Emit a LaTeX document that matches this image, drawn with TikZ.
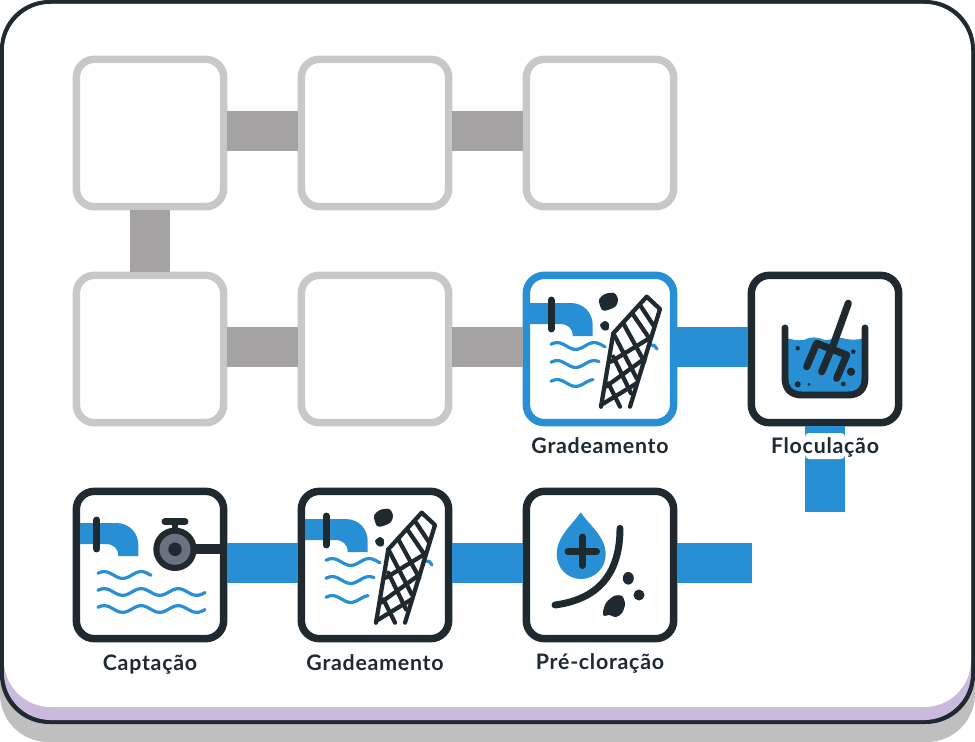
\documentclass[tikz,border=0pt]{standalone}
\usepackage{fontspec}
\setmainfont{Lato}[LetterSpace=3.5]
\usetikzlibrary{calc}
\definecolor{waterblue}{RGB}{41,143,212}
\definecolor{inkdark}{RGB}{31,41,48}
\definecolor{idlegrey}{RGB}{200,200,200}
\definecolor{pipegrey}{RGB}{164,162,163}
\definecolor{valvegrey}{RGB}{107,114,128}
\definecolor{lilac}{RGB}{200,187,219}
\definecolor{shadowgrey}{RGB}{191,191,191}
\tikzset{
  stagebox/.style={draw=#1,fill=white,line width=5.6pt,rounded corners=13.5pt,minimum width=110.5pt,minimum height=110.5pt,inner sep=0pt},
  link/.style={line width=30pt,draw=#1},
  waterline/.style={draw=waterblue,line width=2.4pt,line cap=round},
  inkline/.style={draw=inkdark,line width=#1,line cap=round,line join=round},
  stagetext/.style={font=\fontsize{16}{18}\bfseries\selectfont,text=inkdark,inner sep=0pt,anchor=base}
}
% wave: from x to x at height y
\newcommand{\wavyline}[3]{\draw[waterline] plot[domain=#1:#2,samples=36,smooth] (\x,{#3-3.4*sin(9.73*(\x-#1)+30)});}
% pipe: left end x, outer right x, top y
\newcommand{\pipeicon}[3]{
\fill[waterblue] (#1,#3) -- (#2-22,#3) .. controls (#2-9,#3) and (#2,#3+10) .. (#2,#3+22) -- (#2,#3+33) -- (#2-20,#3+33) .. controls (#2-20,#3+25) and (#2-25,#3+21) .. (#2-33,#3+21) -- (#1,#3+21) -- cycle;
\draw[inkline=5.2pt] (#2-41.5,#3-3) -- (#2-41.5,#3+26);
}
% grid icon, drawn for the box at 523,272
\newcommand{\screenicon}{
\wavyline{551}{605}{346}
\wavyline{551}{599}{364}
\wavyline{551}{593}{383}
\draw[waterline] (650,345) .. controls (654,345) and (656,346) .. (657,349);
\fill[inkdark] plot[smooth cycle] coordinates {(599,300) (605,294) (614,293) (618,299) (616,306) (608,310) (602,310)};
\fill[inkdark] plot[smooth cycle] coordinates {(600,325) (605,321) (609,324) (608,330) (603,330)};
\draw[inkline=3.2pt] (601,406.7) -- (613.3,333.3) -- (646.7,296.7) -- (660,309) -- (630,406.7);
\draw[inkline=3.2pt] (608.3,383.3) -- (620,406.7) (613.3,356.7) -- (631,393.3) (613.3,333.3) -- (636.7,378.3) (623.3,323.3) -- (644.3,361.7) (632.7,314) -- (649.3,338.3) (640,305) -- (654.3,326.7);
\draw[inkline=3.2pt] (611,361.7) -- (649.3,338.3) (605.7,386.7) -- (645,358.3) (601,405) -- (636.7,383.3);
}
\begin{document}
\begin{tikzpicture}[x=0.75pt,y=0.75pt,yscale=-1,xscale=1]
\useasboundingbox (0,0) rectangle (975,742);

%Shape: Card
\fill[shadowgrey,rounded corners=36pt] (0,600) rectangle (975,742);
\fill[inkdark,rounded corners=37pt] (0,0) rectangle (975,724);
\fill[lilac,rounded corners=35pt] (4,4) rectangle (971,720);
\fill[white,rounded corners=35pt] (4,4) rectangle (971,707);

%Shape: Stage boxes
\node[stagebox=idlegrey] (idleA) at (150,133) {};
\node[stagebox=idlegrey] (idleB) at (375,133) {};
\node[stagebox=idlegrey] (idleC) at (600,133) {};
\node[stagebox=idlegrey] (idleD) at (150,349) {};
\node[stagebox=idlegrey] (idleE) at (375,349) {};
\node[stagebox=waterblue] (screenA) at (600,349) {};
\node[stagebox=inkdark] (floc) at (825,349) {};
\node[stagebox=inkdark] (intake) at (150,565) {};
\node[stagebox=inkdark] (screenB) at (375,565) {};
\node[stagebox=inkdark] (chlor) at (600,565) {};
\coordinate (endFloc) at (825,512);
\coordinate (endChlor) at (752,565);

%Straight Lines
\draw[link=pipegrey] ([yshift=-1.5pt]idleA.east) -- ([yshift=-1.5pt]idleB.west);
\draw[link=pipegrey] ([yshift=-1.5pt]idleB.east) -- ([yshift=-1.5pt]idleC.west);
\draw[link=pipegrey] (idleA.south) -- (idleD.north);
\draw[link=pipegrey] ([yshift=-1.5pt]idleD.east) -- ([yshift=-1.5pt]idleE.west);
\draw[link=pipegrey] ([yshift=-1.5pt]idleE.east) -- ([yshift=-1.5pt]screenA.west);
\draw[link=waterblue] ([yshift=-1.5pt]screenA.east) -- ([yshift=-1.5pt]floc.west);
\draw[link=waterblue] (floc.south) -- (endFloc);
\draw[link=waterblue] ([yshift=-1.5pt]intake.east) -- ([yshift=-1.5pt]screenB.west);
\draw[link=waterblue] ([yshift=-1.5pt]screenB.east) -- ([yshift=-1.5pt]chlor.west);
\draw[link=waterblue] ([yshift=-1.5pt]chlor.east) -- ([yshift=-1.5pt]endChlor);

%Shape: Screen icons
\pipeicon{530}{592.7}{303}
\screenicon
\begin{scope}[shift={(-225,216)}]
\pipeicon{530}{592.7}{303}
\screenicon
\end{scope}

%Shape: Intake icon
\pipeicon{80}{138.3}{523}
\wavyline{98}{151}{575}
\wavyline{98}{205}{592}
\wavyline{98}{205}{609}
\draw[inkdark,line width=7.5pt] (190,549.3) -- (224,549.3);
\draw[inkline=4.9pt] (175,522) -- (175,532);
\draw[inkline=5.2pt] (165,521.7) -- (185,521.7);
\fill[inkdark] (175,549.3) circle (21.7);
\fill[valvegrey] (175,549.3) circle (15.5);
\fill[inkdark] (175,549.3) circle (6.7);

%Shape: Chlorination icon
\fill[waterblue] (580.7,512.3) .. controls (588,524) and (605.7,536) .. (605.7,554.5) .. controls (605.7,568) and (594.5,579) .. (581,579) .. controls (567.5,579) and (556.7,568) .. (556.7,554.5) .. controls (556.7,536) and (573,524) .. (580.7,512.3) -- cycle;
\draw[inkline=5.2pt] (568,551.3) -- (596.5,551.3) (582.3,537) -- (582.3,565.5);
\draw[inkline=5.2pt] (620,528.3) .. controls (620,580) and (592,600) .. (555,605);
\fill[inkdark] (628.3,578.3) ellipse (5.5 and 6.3);
\fill[inkdark] (639,595) circle (5.5);
\fill[inkdark] plot[smooth cycle] coordinates {(603,612) (606,603) (614,596) (622,596) (625,604) (622,613) (616,617) (609,615) (604,616)};

%Shape: Flocculation icon
\fill[waterblue] (785,338) .. controls (792,339) and (796,341) .. (804,340) .. controls (812,336) and (816,337) .. (825,340) .. controls (833,340) and (838,336) .. (846,339) .. controls (852,340) and (858,340) .. (865,338) -- (865,385) -- (855,395) -- (795,395) -- (785,385) -- cycle;
\draw[inkline=5.2pt] (785,328) -- (785,378) .. controls (785,389) and (791,395) .. (802,395) -- (848,395) .. controls (859,395) and (865,389) .. (865,378) -- (865,328);
\draw[inkline=5.4pt] (848.3,303.3) -- (833.3,345);
\draw[inkline=5.4pt] (806.7,366.7) -- (816.7,343.3) -- (846.7,355) -- (836.7,378.3) (821.7,371.7) -- (831.7,348);
\fill[inkdark] (797.7,348.3) circle (2.2);
\fill[inkdark] (853.3,351.7) circle (2.3);
\fill[inkdark] (851,371.7) circle (4.2);
\fill[inkdark] (843.3,384) circle (2.4);
\fill[inkdark] (797.7,384.3) circle (3);
\fill[inkdark] (809,384.3) circle (1.5);

%Shape: Label patch
\fill[white,rounded corners=3pt] (805,433) rectangle (845,459);

% Text Node
\node[stagetext] (lblScreenA) at (600,453) {Gradeamento};
% Text Node
\node[stagetext] (lblFloc) at (825,453) {Floculação};
% Text Node
\node[stagetext] (lblIntake) at (150,670) {Captação};
% Text Node
\node[stagetext] (lblScreenB) at (375,670) {Gradeamento};
% Text Node
\node[stagetext] (lblChlor) at (600,669) {Pré-cloração};
\end{tikzpicture}
\end{document}
